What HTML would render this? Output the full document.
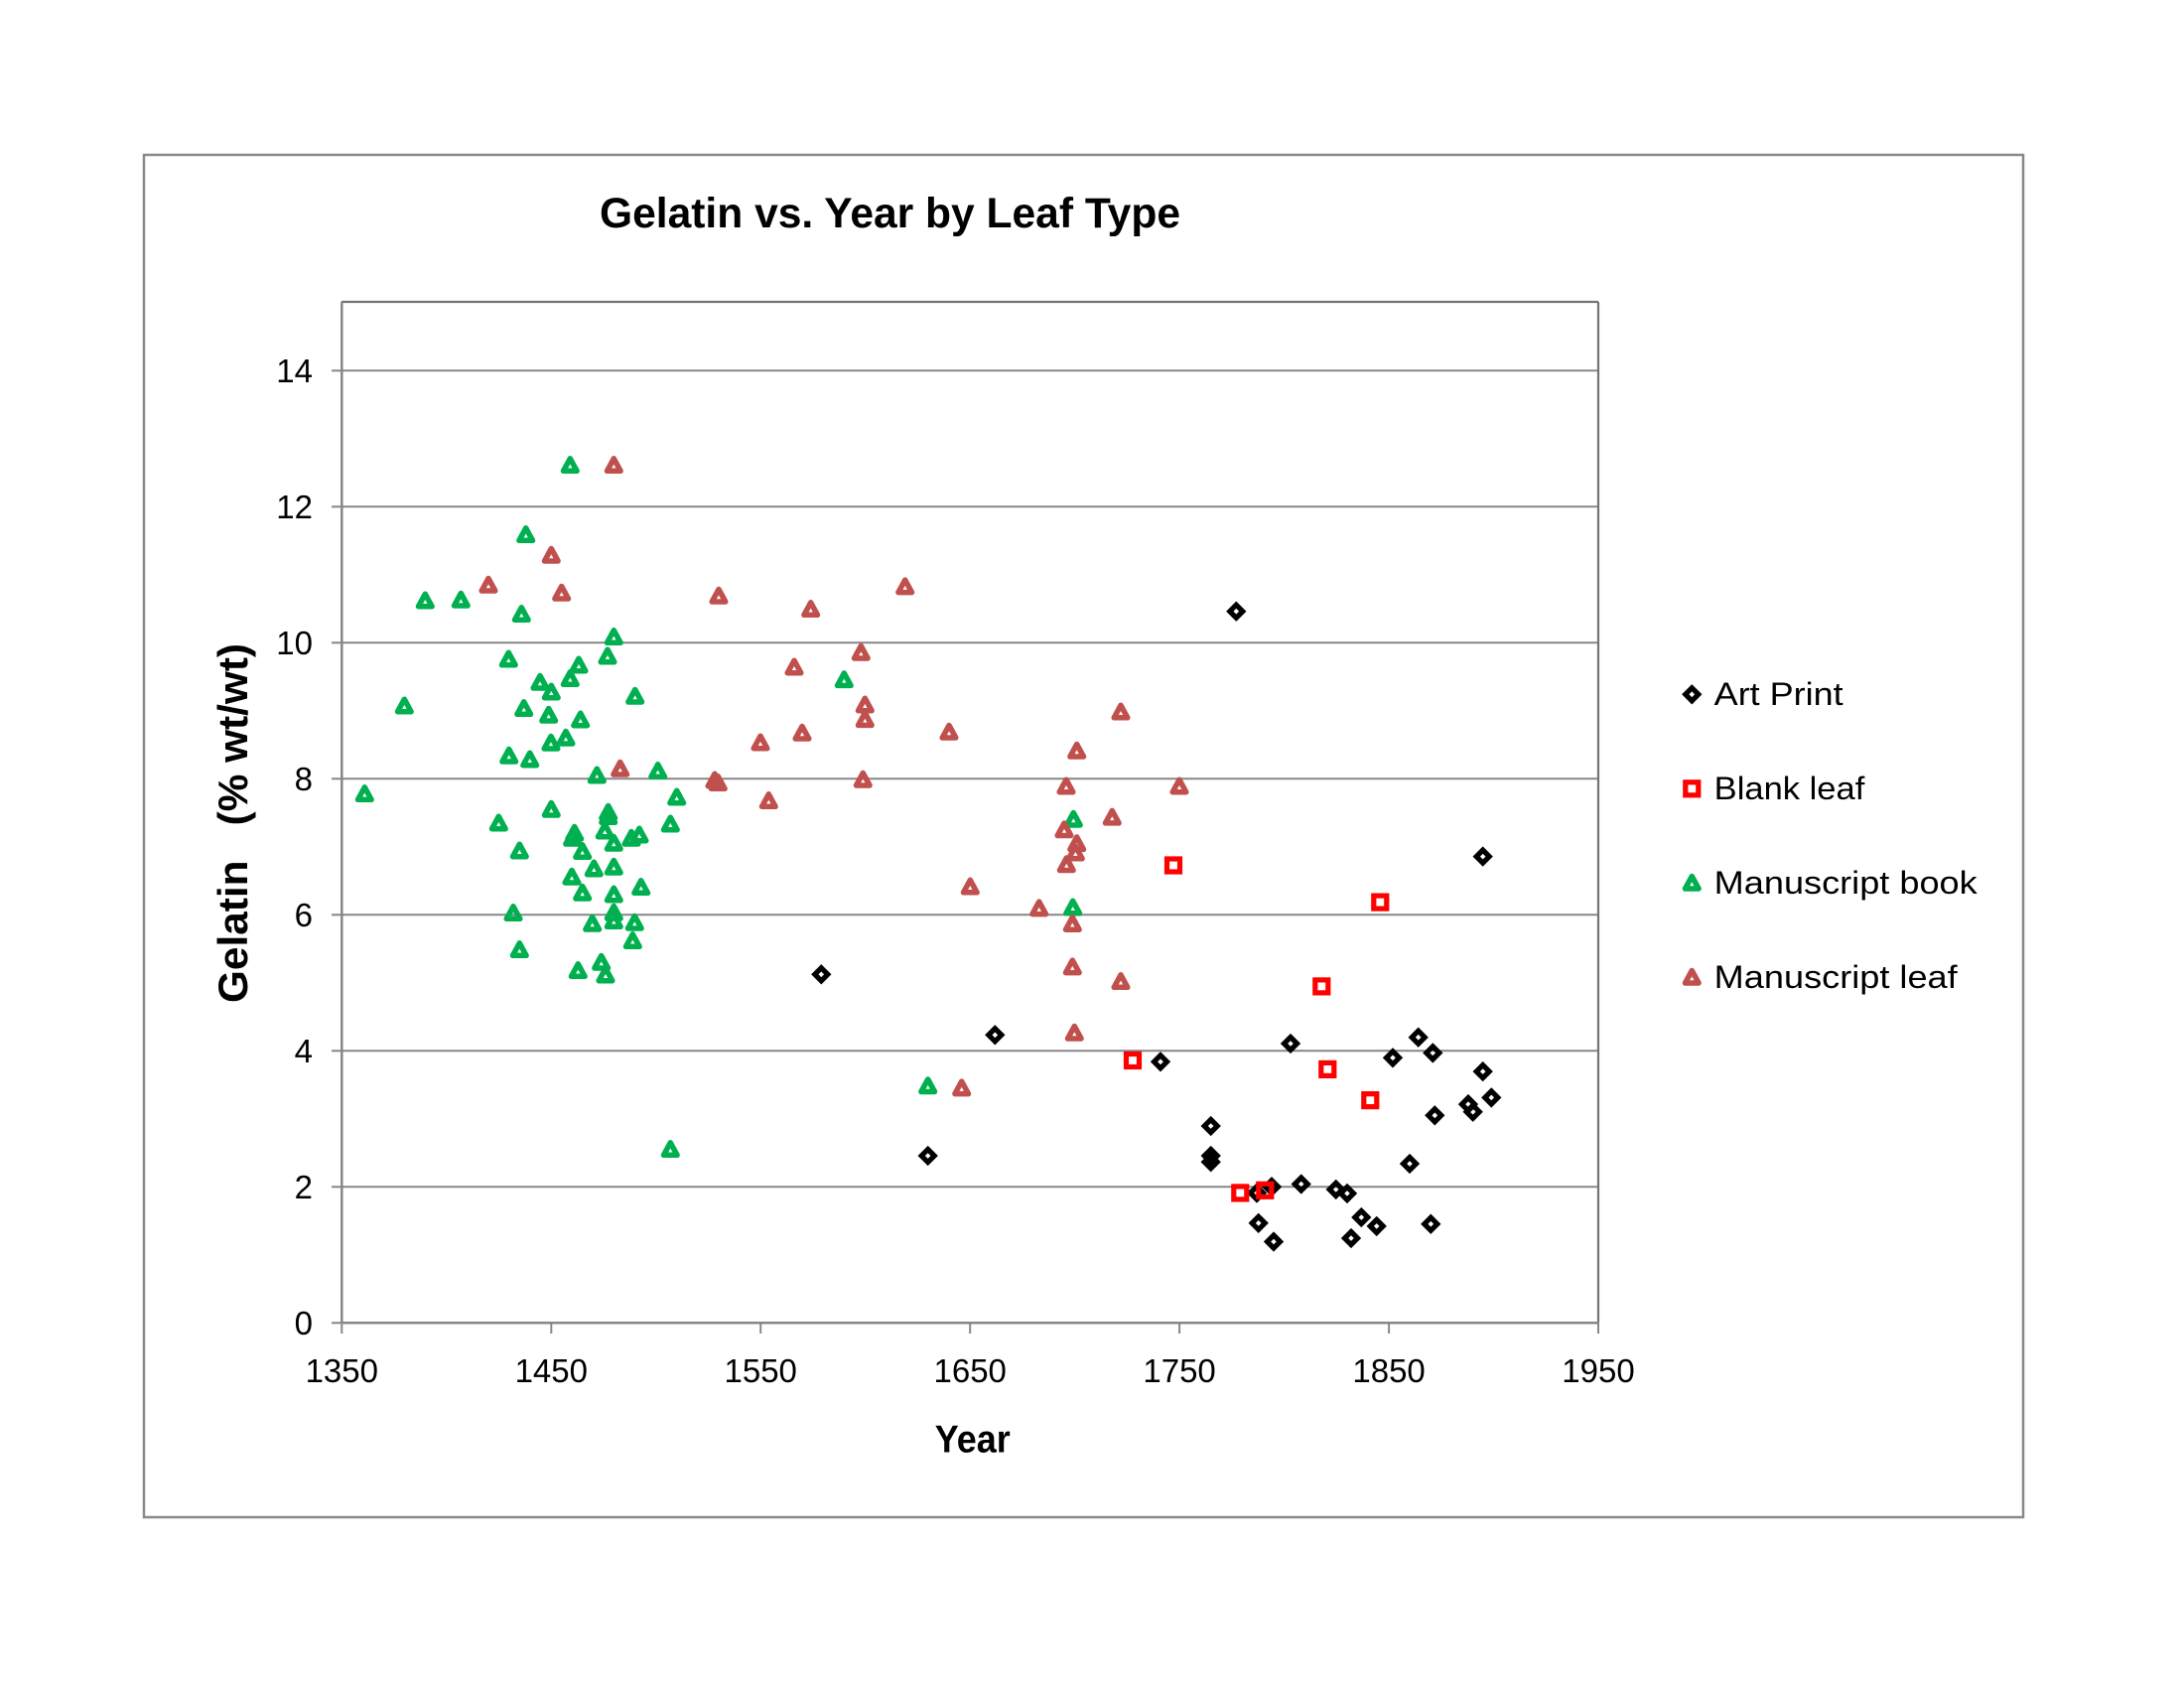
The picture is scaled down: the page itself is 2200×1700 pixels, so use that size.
<!DOCTYPE html>
<html>
<head>
<meta charset="utf-8">
<style>
html,body{margin:0;padding:0;background:#fff;}
svg{display:block;}
text{font-family:"Liberation Sans",Arial,sans-serif;fill:#000;}
</style>
</head>
<body>
<svg width="2200" height="1700" viewBox="0 0 2200 1700" xmlns="http://www.w3.org/2000/svg">
<defs>
  <g id="dia"><polygon points="0,-6.5 6.5,0 0,6.5 -6.5,0" fill="none" stroke="#000" stroke-width="5.2" stroke-linejoin="miter"/></g>
  <g id="sq"><rect x="-6.5" y="-6.5" width="13" height="13" fill="none" stroke="#FF0000" stroke-width="5.2"/></g>
  <g id="tg"><polygon points="0,-7.5 6.8,5 -6.8,5" fill="none" stroke="#00B050" stroke-width="5.5" stroke-linejoin="round"/></g>
  <g id="tr"><polygon points="0,-7.5 6.8,5 -6.8,5" fill="none" stroke="#C0504D" stroke-width="5.5" stroke-linejoin="round"/></g>
</defs>
<rect x="0" y="0" width="2200" height="1700" fill="#fff"/>
<rect x="145" y="156" width="1893" height="1372" fill="none" stroke="#898989" stroke-width="2.5"/>

<text x="604" y="229" font-size="43" font-weight="bold" textLength="585" lengthAdjust="spacingAndGlyphs">Gelatin vs. Year by Leaf Type</text>

<g stroke="#878787" stroke-width="2">
  <line x1="344" y1="1195.3" x2="1610" y2="1195.3"/>
  <line x1="344" y1="1058.3" x2="1610" y2="1058.3"/>
  <line x1="344" y1="921.3" x2="1610" y2="921.3"/>
  <line x1="344" y1="784.3" x2="1610" y2="784.3"/>
  <line x1="344" y1="647.3" x2="1610" y2="647.3"/>
  <line x1="344" y1="510.3" x2="1610" y2="510.3"/>
  <line x1="344" y1="373.3" x2="1610" y2="373.3"/>
</g>
<g stroke="#737373" stroke-width="2.2" fill="none">
  <line x1="344" y1="304" x2="1610" y2="304"/>
  <line x1="1610" y1="304" x2="1610" y2="1332.3"/>
</g>
<g stroke="#878787" stroke-width="2.5">
  <line x1="344.3" y1="304" x2="344.3" y2="1333"/>
  <line x1="344" y1="1332.3" x2="1611" y2="1332.3"/>
</g>
<g stroke="#878787" stroke-width="2">
  <line x1="334" y1="1332.3" x2="344" y2="1332.3"/>
  <line x1="334" y1="1195.3" x2="344" y2="1195.3"/>
  <line x1="334" y1="1058.3" x2="344" y2="1058.3"/>
  <line x1="334" y1="921.3" x2="344" y2="921.3"/>
  <line x1="334" y1="784.3" x2="344" y2="784.3"/>
  <line x1="334" y1="647.3" x2="344" y2="647.3"/>
  <line x1="334" y1="510.3" x2="344" y2="510.3"/>
  <line x1="334" y1="373.3" x2="344" y2="373.3"/>
</g>
<g stroke="#878787" stroke-width="2">
  <line x1="344.3" y1="1332" x2="344.3" y2="1343"/>
  <line x1="555.3" y1="1332" x2="555.3" y2="1343"/>
  <line x1="766.2" y1="1332" x2="766.2" y2="1343"/>
  <line x1="977.2" y1="1332" x2="977.2" y2="1343"/>
  <line x1="1188.1" y1="1332" x2="1188.1" y2="1343"/>
  <line x1="1399.1" y1="1332" x2="1399.1" y2="1343"/>
  <line x1="1610" y1="1332" x2="1610" y2="1343"/>
</g>

<g font-size="33" text-anchor="end">
  <text x="315" y="1344">0</text>
  <text x="315" y="1207">2</text>
  <text x="315" y="1070">4</text>
  <text x="315" y="933">6</text>
  <text x="315" y="796">8</text>
  <text x="315" y="659">10</text>
  <text x="315" y="522">12</text>
  <text x="315" y="385">14</text>
</g>
<g font-size="33" text-anchor="middle">
  <text x="344.3" y="1392">1350</text>
  <text x="555.3" y="1392">1450</text>
  <text x="766.2" y="1392">1550</text>
  <text x="977.2" y="1392">1650</text>
  <text x="1188.1" y="1392">1750</text>
  <text x="1399.1" y="1392">1850</text>
  <text x="1610" y="1392">1950</text>
</g>

<text x="941.8" y="1462.7" font-size="38.7" font-weight="bold" textLength="76" lengthAdjust="spacingAndGlyphs">Year</text>
<text transform="translate(249,829) rotate(-90)" x="0" y="0" font-size="42" font-weight="bold" text-anchor="middle" textLength="362" lengthAdjust="spacingAndGlyphs" xml:space="preserve">Gelatin   (% wt/wt)</text>

<g>
<use href="#dia" x="1245.3" y="615.7"/>
<use href="#dia" x="1493.7" y="862.6"/>
<use href="#dia" x="827.3" y="981.3"/>
<use href="#dia" x="1002.3" y="1042.3"/>
<use href="#dia" x="934.7" y="1164"/>
<use href="#dia" x="1169" y="1069.3"/>
<use href="#dia" x="1219.7" y="1134"/>
<use href="#dia" x="1219.7" y="1164"/>
<use href="#dia" x="1219.7" y="1170.2"/>
<use href="#dia" x="1300" y="1051"/>
<use href="#dia" x="1428.7" y="1044.7"/>
<use href="#dia" x="1443.3" y="1060.4"/>
<use href="#dia" x="1403" y="1065.3"/>
<use href="#dia" x="1493.7" y="1079.1"/>
<use href="#dia" x="1502.3" y="1105.4"/>
<use href="#dia" x="1479" y="1112.1"/>
<use href="#dia" x="1483.7" y="1119.7"/>
<use href="#dia" x="1445.3" y="1123.3"/>
<use href="#dia" x="1420" y="1172"/>
<use href="#dia" x="1310.7" y="1192.5"/>
<use href="#dia" x="1281" y="1195.2"/>
<use href="#dia" x="1266" y="1201.4"/>
<use href="#dia" x="1345.7" y="1197.9"/>
<use href="#dia" x="1357" y="1201.9"/>
<use href="#dia" x="1371.3" y="1226"/>
<use href="#dia" x="1386.7" y="1234.9"/>
<use href="#dia" x="1267.7" y="1231.8"/>
<use href="#dia" x="1283" y="1250.5"/>
<use href="#dia" x="1361" y="1247"/>
<use href="#dia" x="1441.3" y="1232.7"/>
</g>

<g>
<use href="#sq" x="1182" y="871.5"/>
<use href="#sq" x="1390.3" y="908.6"/>
<use href="#sq" x="1331.3" y="993.4"/>
<use href="#sq" x="1337.3" y="1076.9"/>
<use href="#sq" x="1380.3" y="1108.1"/>
<use href="#sq" x="1141" y="1068"/>
<use href="#sq" x="1249.3" y="1201.4"/>
<use href="#sq" x="1274.3" y="1198.8"/>
</g>

<g>
<use href="#tg" x="574.3" y="469.3"/>
<use href="#tg" x="529.7" y="539.3"/>
<use href="#tg" x="428.3" y="605.7"/>
<use href="#tg" x="464.3" y="605"/>
<use href="#tg" x="525.3" y="619.3"/>
<use href="#tg" x="618.3" y="642.3"/>
<use href="#tg" x="512.3" y="664.7"/>
<use href="#tg" x="612" y="661.7"/>
<use href="#tg" x="583" y="670.7"/>
<use href="#tg" x="574.3" y="684.3"/>
<use href="#tg" x="544" y="688"/>
<use href="#tg" x="555.3" y="697.7"/>
<use href="#tg" x="639.7" y="702"/>
<use href="#tg" x="407.3" y="711.7"/>
<use href="#tg" x="527.7" y="714.3"/>
<use href="#tg" x="552.7" y="721"/>
<use href="#tg" x="584.7" y="725.7"/>
<use href="#tg" x="570" y="744"/>
<use href="#tg" x="555" y="749"/>
<use href="#tg" x="512.7" y="762"/>
<use href="#tg" x="533.7" y="765.7"/>
<use href="#tg" x="601.3" y="781.7"/>
<use href="#tg" x="662.7" y="777.3"/>
<use href="#tg" x="367.3" y="800.3"/>
<use href="#tg" x="681.7" y="803.7"/>
<use href="#tg" x="555.3" y="816"/>
<use href="#tg" x="612.7" y="819"/>
<use href="#tg" x="612.7" y="823.3"/>
<use href="#tg" x="502.3" y="829.7"/>
<use href="#tg" x="675.3" y="830.7"/>
<use href="#tg" x="609.3" y="837.7"/>
<use href="#tg" x="578.7" y="840"/>
<use href="#tg" x="576.7" y="845"/>
<use href="#tg" x="636" y="845"/>
<use href="#tg" x="644" y="841.7"/>
<use href="#tg" x="618.3" y="850"/>
<use href="#tg" x="586.7" y="858.3"/>
<use href="#tg" x="523.3" y="857.7"/>
<use href="#tg" x="598.3" y="875.7"/>
<use href="#tg" x="618.3" y="874"/>
<use href="#tg" x="576" y="884"/>
<use href="#tg" x="645.7" y="894.3"/>
<use href="#tg" x="586.7" y="900"/>
<use href="#tg" x="618.3" y="901.7"/>
<use href="#tg" x="517" y="920.3"/>
<use href="#tg" x="618.3" y="920"/>
<use href="#tg" x="618.3" y="928.3"/>
<use href="#tg" x="596.7" y="931"/>
<use href="#tg" x="639.3" y="930"/>
<use href="#tg" x="637.3" y="948.3"/>
<use href="#tg" x="523.3" y="957.3"/>
<use href="#tg" x="582.3" y="978.3"/>
<use href="#tg" x="605.7" y="970"/>
<use href="#tg" x="610" y="982.7"/>
<use href="#tg" x="675.3" y="1158.3"/>
<use href="#tg" x="850.3" y="685.4"/>
<use href="#tg" x="1081.3" y="826"/>
<use href="#tg" x="1080.7" y="914.8"/>
<use href="#tg" x="934.7" y="1094.5"/>
</g>

<g>
<use href="#tr" x="618.3" y="469.3"/>
<use href="#tr" x="555.3" y="560"/>
<use href="#tr" x="492" y="590"/>
<use href="#tr" x="565.7" y="598"/>
<use href="#tr" x="724" y="601"/>
<use href="#tr" x="816.7" y="614.3"/>
<use href="#tr" x="800" y="672.7"/>
<use href="#tr" x="808" y="739"/>
<use href="#tr" x="766" y="748.7"/>
<use href="#tr" x="624.7" y="775"/>
<use href="#tr" x="720" y="786.7"/>
<use href="#tr" x="723.3" y="789.3"/>
<use href="#tr" x="774.3" y="807.3"/>
<use href="#tr" x="911.7" y="591.6"/>
<use href="#tr" x="867.3" y="658"/>
<use href="#tr" x="871.3" y="710.7"/>
<use href="#tr" x="871.3" y="725.4"/>
<use href="#tr" x="956" y="738"/>
<use href="#tr" x="1129" y="717.8"/>
<use href="#tr" x="1084.7" y="757"/>
<use href="#tr" x="869.3" y="786"/>
<use href="#tr" x="1074" y="792.7"/>
<use href="#tr" x="1188" y="792.7"/>
<use href="#tr" x="1120.3" y="823.9"/>
<use href="#tr" x="1072" y="836.5"/>
<use href="#tr" x="1084.7" y="850.4"/>
<use href="#tr" x="1083.3" y="859.7"/>
<use href="#tr" x="1074.3" y="871.5"/>
<use href="#tr" x="977.3" y="893.8"/>
<use href="#tr" x="1046.7" y="915.6"/>
<use href="#tr" x="1080.3" y="931.2"/>
<use href="#tr" x="1080.3" y="974.6"/>
<use href="#tr" x="1129" y="989.3"/>
<use href="#tr" x="1082.3" y="1041"/>
<use href="#tr" x="968.7" y="1096.6"/>
</g>

<use href="#dia" x="1704.3" y="699.3"/>
<text x="1726.7" y="710" font-size="32.5" textLength="130" lengthAdjust="spacingAndGlyphs">Art Print</text>
<use href="#sq" x="1704.3" y="794.3"/>
<text x="1726.7" y="805" font-size="32.5" textLength="151.6" lengthAdjust="spacingAndGlyphs">Blank leaf</text>
<use href="#tg" x="1704.3" y="890"/>
<text x="1726.7" y="900" font-size="32.5" textLength="265" lengthAdjust="spacingAndGlyphs">Manuscript book</text>
<use href="#tr" x="1704.3" y="985"/>
<text x="1726.7" y="995" font-size="32.5" textLength="245" lengthAdjust="spacingAndGlyphs">Manuscript leaf</text>
</svg>
</body>
</html>
